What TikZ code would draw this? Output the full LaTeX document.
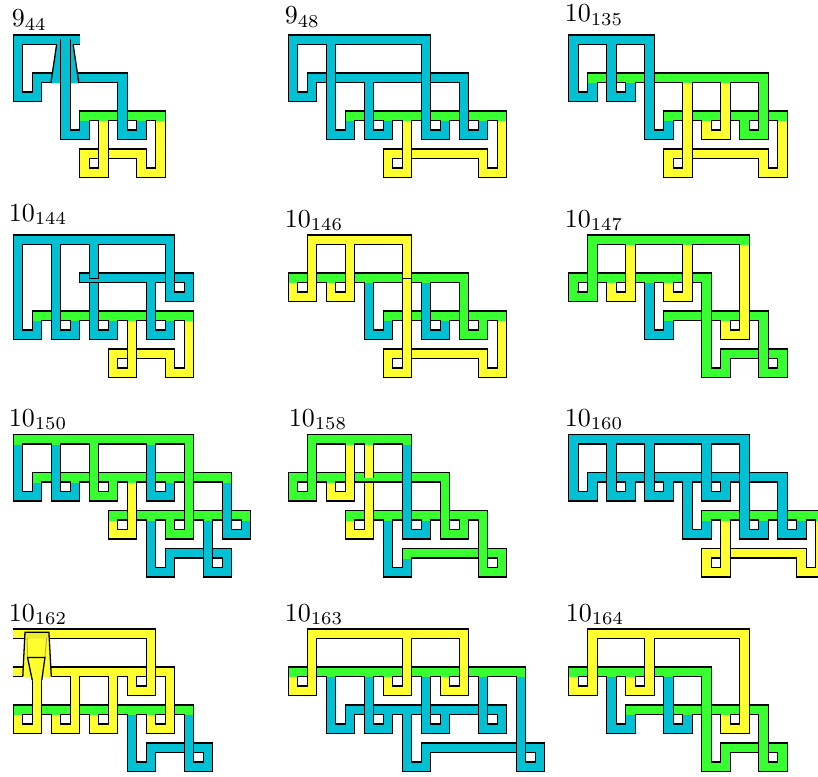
\documentclass[tikz,border=0pt]{standalone}
\definecolor{cy}{RGB}{0,192,212}
\definecolor{gr}{RGB}{56,255,48}
\definecolor{ye}{RGB}{255,255,48}
\definecolor{yd}{RGB}{236,236,40}
\tikzset{
  bk/.style={line width=10.8pt,draw=black},
  cl/.style={line width=8.2pt},
  sa/.style={shorten <=4pt},
  se/.style={shorten >=4pt},
  lbl/.style={anchor=base west,inner sep=0pt,scale=2.6}
}
\newcommand\rb[3][]{\draw[bk,#1] #3; \draw[cl,draw=#2] #3;}
\newcommand\J[3]{\draw[cl,draw=#1] (#2,#3-.4)--(#2,#3+.08);}
\newcommand\cp[1]{\draw[bk] #1;}
\newenvironment{pn}[2]{\begin{scope}[shift={(#1,#2)},x=9.5pt,y=-9.5pt]}{\end{scope}}
\begin{document}
\begin{tikzpicture}[x=1pt,y=-1pt]
\clip (0,0) rectangle (818,776);
\fill[white] (0,0) rectangle (818,776);
% labels
\node[lbl] (a1) at (11.3,26.3) {$9_{44}$};
\node[lbl] (a2) at (284.3,23.3) {$9_{48}$};
\node[lbl] (a3) at (564.3,22) {$10_{135}$};
\node[lbl] (a4) at (8.3,221) {$10_{144}$};
\node[lbl] (a5) at (284.3,227) {$10_{146}$};
\node[lbl] (a6) at (564.3,227) {$10_{147}$};
\node[lbl] (a7) at (8.3,426) {$10_{150}$};
\node[lbl] (a8) at (288.3,426) {$10_{158}$};
\node[lbl] (a9) at (564.3,426) {$10_{160}$};
\node[lbl] (a10) at (8.3,621) {$10_{162}$};
\node[lbl] (a11) at (284.3,621) {$10_{163}$};
\node[lbl] (a12) at (565.3,621) {$10_{164}$};
% 9_44
\begin{pn}{13.3}{35}
\rb{gr}{(7.5,9)--(7.5,8.5)--(15.5,8.5)--(15.5,9)}
\rb{ye}{(15.5,9)--(15.5,14.5)--(13.5,14.5)--(13.5,12.5)--(7.5,12.5)--(7.5,14.5)--(9.5,14.5)}
\rb[sa]{ye}{(8.5,14.5)--(9.5,14.5)--(9.5,9)}
\J{gr}{15.5}{9}\J{gr}{9.5}{9}
\cp{(6.5,.5)--(7.07,.5)}
\rb{cy}{(13.5,9)--(13.5,10.5)--(11.5,10.5)--(11.5,4.5)--(2.5,4.5)--(2.5,6.5)--(.5,6.5)--(.5,.5)--(7,.5)}
\J{gr}{13.5}{9}
\fill[cy] (4.56,.93)--(3.96,5.08)--(6.9,5.08)--(6.3,.93)--cycle;
\draw[line width=1.3pt] (4.56,1)--(3.96,5.05) (6.3,1)--(6.9,5.05);
\cp{(5.5,.39)--(5.5,.7)}
\rb{cy}{(5.5,.46)--(5.5,10.5)--(7.5,10.5)--(7.5,9)}
\J{gr}{7.5}{9}
\end{pn}
% 9_48
\begin{pn}{288.3}{35}
\rb{gr}{(6.5,9)--(6.5,8.5)--(22.5,8.5)--(22.5,9)}
\rb{ye}{(22.5,9)--(22.5,14.5)--(20.5,14.5)--(20.5,12.5)--(10.5,12.5)--(10.5,14.5)--(12.5,14.5)}
\rb[sa]{ye}{(11.5,14.5)--(12.5,14.5)--(12.5,9)}
\J{gr}{22.5}{9}\J{gr}{12.5}{9}
\rb{cy}{(20.5,9)--(20.5,10.5)--(18.5,10.5)--(18.5,4.5)--(2.5,4.5)--(2.5,6.5)--(.5,6.5)--(.5,3)}
\rb[sa]{cy}{(.5,4)--(.5,.5)--(14.5,.5)--(14.5,10.5)--(16.5,10.5)--(16.5,9)}
\rb{cy}{(8.5,5)--(8.5,10.5)--(10.5,10.5)--(10.5,9)}
\rb{cy}{(4.5,1)--(4.5,10.5)--(6.5,10.5)--(6.5,9)}
\J{cy}{8.5}{5}\J{cy}{4.5}{1}
\J{gr}{20.5}{9}\J{gr}{16.5}{9}\J{gr}{10.5}{9}\J{gr}{6.5}{9}
\end{pn}
% 10_135
\begin{pn}{568.7}{35}
\rb{gr}{(10.5,9)--(10.5,8.5)--(22.5,8.5)--(22.5,9)}
\rb{ye}{(22.5,9)--(22.5,14.5)--(20.5,14.5)--(20.5,12.5)--(10.5,12.5)--(10.5,14.5)--(12.5,14.5)}
\J{gr}{22.5}{9}
\rb{gr}{(18.5,9)--(18.5,10.5)--(20.5,10.5)--(20.5,4.5)--(2.5,4.5)--(2.5,5)}
\rb{cy}{(2.5,5)--(2.5,6.5)--(.5,6.5)--(.5,.5)--(8.5,.5)--(8.5,10.5)--(10.5,10.5)--(10.5,9)}
\rb[sa]{ye}{(11.5,14.5)--(12.5,14.5)--(12.5,5)}
\rb{cy}{(4.5,1)--(4.5,6.5)--(6.5,6.5)--(6.5,5)}
\rb{ye}{(16.5,5)--(16.5,10.5)--(14.5,10.5)--(14.5,9)}
\J{gr}{18.5}{9}\J{gr}{2.5}{5}\J{cy}{4.5}{1}\J{gr}{6.5}{5}\J{gr}{16.5}{5}\J{gr}{14.5}{9}\J{gr}{10.5}{9}\J{gr}{12.5}{5}
\end{pn}
% 10_144
\begin{pn}{13.3}{235}
\rb{gr}{(2.5,9)--(2.5,8.5)--(18.5,8.5)--(18.5,9)}
\rb{ye}{(18.5,9)--(18.5,14.5)--(16.5,14.5)--(16.5,12.5)--(10.5,12.5)--(10.5,14.5)--(12.5,14.5)}
\rb[sa]{ye}{(11.5,14.5)--(12.5,14.5)--(12.5,9)}
\J{gr}{18.5}{9}\J{gr}{12.5}{9}
\cp{(6.93,4.5)--(7.5,4.5)}
\rb{cy}{(8.5,5)--(8.5,10.5)--(10.5,10.5)--(10.5,9)}
\rb{cy}{(7,4.5)--(18.5,4.5)--(18.5,6.5)--(17.5,6.5)}
\rb{cy}{(14.5,5)--(14.5,10.5)--(16.5,10.5)--(16.5,9)}
\rb[se]{cy}{(2.5,9)--(2.5,10.5)--(.5,10.5)--(.5,.5)--(16.5,.5)--(16.5,6.5)--(18,6.5)}
\rb{cy}{(4.5,1)--(4.5,10.5)--(6.5,10.5)--(6.5,9)}
\cp{(8.5,4.3)--(8.5,4.63)}
\rb{cy}{(8.5,1)--(8.5,4.56)}
\J{cy}{14.5}{5}\J{gr}{16.5}{9}\J{gr}{10.5}{9}\J{gr}{2.5}{9}\J{gr}{6.5}{9}\J{cy}{4.5}{1}\J{cy}{8.5}{1}
\end{pn}
% 10_146
\begin{pn}{288.3}{235}
\rb{gr}{(10.5,9)--(10.5,8.5)--(22.5,8.5)--(22.5,9)}
\rb{ye}{(22.5,9)--(22.5,14.5)--(20.5,14.5)--(20.5,12.5)--(10.5,12.5)--(10.5,14.5)--(12.5,14.5)}
\J{gr}{22.5}{9}
\rb{gr}{(.5,5)--(.5,4.5)--(18.5,4.5)--(18.5,10.5)--(20.5,10.5)--(20.5,9)}
\rb{cy}{(8.5,5)--(8.5,10.5)--(10.5,10.5)--(10.5,9)}
\rb{cy}{(14.5,5)--(14.5,10.5)--(16.5,10.5)--(16.5,9)}
\rb{ye}{(4.5,5)--(4.5,6.5)--(6.5,6.5)--(6.5,1)}
\rb[sa]{ye}{(11.5,14.5)--(12.5,14.5)--(12.5,4.56)}
\cp{(12.5,4.3)--(12.5,4.63)}
\rb{ye}{(.5,5)--(.5,6.5)--(2.5,6.5)--(2.5,.5)--(12.5,.5)--(12.5,4.56)}
\J{gr}{20.5}{9}\J{gr}{.5}{5}\J{gr}{8.5}{5}\J{gr}{10.5}{9}\J{gr}{14.5}{5}\J{gr}{16.5}{9}\J{gr}{4.5}{5}\J{ye}{6.5}{1}
\end{pn}
% 10_147
\begin{pn}{568.7}{235}
\rb{gr}{(10.5,9)--(10.5,8.5)--(20.5,8.5)--(20.5,9)}
\rb{gr}{(21.5,14.5)--(22.5,14.5)--(22.5,12.5)--(16.5,12.5)--(16.5,14.5)--(14.5,14.5)--(14.5,4.5)--(.5,4.5)--(.5,6.5)--(1.5,6.5)}
\rb[sa]{gr}{(.5,6.5)--(2.5,6.5)--(2.5,.5)--(18.5,.5)--(18.5,1)}
\rb[se]{gr}{(20.5,9)--(20.5,14.5)--(22,14.5)}
\J{gr}{20.5}{9}
\rb{ye}{(18.5,1)--(18.5,10.5)--(16.5,10.5)--(16.5,9)}
\rb{ye}{(6.5,1)--(6.5,6.5)--(4.5,6.5)--(4.5,5)}
\rb{ye}{(12.5,1)--(12.5,6.5)--(10.5,6.5)--(10.5,5)}
\rb{cy}{(10.5,9)--(10.5,10.5)--(8.5,10.5)--(8.5,5)}
\J{gr}{18.5}{1}\J{gr}{16.5}{9}\J{gr}{6.5}{1}\J{gr}{4.5}{5}\J{gr}{12.5}{1}\J{gr}{10.5}{5}\J{gr}{10.5}{9}\J{gr}{8.5}{5}
\end{pn}
% 10_150
\begin{pn}{13.3}{434.5}
\rb{gr}{(10.5,9)--(10.5,8.5)--(24.5,8.5)--(24.5,9)}
\rb{cy}{(14.5,9)--(14.5,14.5)--(16.5,14.5)--(16.5,12.5)--(22.5,12.5)--(22.5,14.5)--(20.5,14.5)}
\rb[sa]{cy}{(21.5,14.5)--(20.5,14.5)--(20.5,9)}
\J{gr}{14.5}{9}\J{gr}{20.5}{9}
\rb{gr}{(2.5,5)--(2.5,4.5)--(22.5,4.5)--(22.5,5)}
\rb{ye}{(10.5,9)--(10.5,10.5)--(12.5,10.5)--(12.5,5)}
\rb{cy}{(22.5,5)--(22.5,10.5)--(24.5,10.5)--(24.5,9)}
\rb{gr}{(.5,1)--(.5,.5)--(18.5,.5)--(18.5,10.5)--(16.5,10.5)--(16.5,9)}
\rb{cy}{(.5,1)--(.5,6.5)--(2.5,6.5)--(2.5,5)}
\rb{cy}{(4.5,1)--(4.5,6.5)--(6.5,6.5)--(6.5,5)}
\rb{gr}{(8.5,1)--(8.5,6.5)--(10.5,6.5)--(10.5,5)}
\rb{cy}{(14.5,1)--(14.5,6.5)--(16.5,6.5)--(16.5,5)}
\J{gr}{10.5}{9}\J{gr}{12.5}{5}\J{gr}{22.5}{5}\J{gr}{24.5}{9}\J{gr}{16.5}{9}\J{gr}{.5}{1}\J{gr}{2.5}{5}\J{gr}{4.5}{1}\J{gr}{6.5}{5}\J{gr}{8.5}{1}\J{gr}{10.5}{5}\J{gr}{14.5}{1}\J{gr}{16.5}{5}
\end{pn}
% 10_158
\begin{pn}{288.3}{434.5}
\rb{gr}{(12.5,13)--(12.5,12.5)--(22.5,12.5)--(22.5,14.5)--(20.5,14.5)}
\rb[sa]{gr}{(21.5,14.5)--(20.5,14.5)--(20.5,8.5)--(6.5,8.5)--(6.5,9)}
\rb{cy}{(10.5,9)--(10.5,14.5)--(12.5,14.5)--(12.5,13)}
\J{gr}{10.5}{9}\J{gr}{12.5}{13}
\rb{ye}{(6.5,9)--(6.5,10.5)--(8.5,10.5)--(8.5,5)}
\J{gr}{6.5}{9}
\rb{gr}{(18.5,9)--(18.5,10.5)--(16.5,10.5)--(16.5,4.5)--(.5,4.5)--(.5,6.5)--(1.5,6.5)}
\J{gr}{18.5}{9}
\rb[sa]{gr}{(.5,6.5)--(2.5,6.5)--(2.5,.5)--(12.5,.5)--(12.5,1)}
\rb{cy}{(12.5,1)--(12.5,10.5)--(14.5,10.5)--(14.5,9)}
\rb{ye}{(6.5,1)--(6.5,6.5)--(4.5,6.5)--(4.5,5)}
\cp{(8.5,4.3)--(8.5,4.63)}
\rb{ye}{(8.5,1)--(8.5,4.56)}
\J{gr}{12.5}{1}\J{gr}{14.5}{9}\J{gr}{6.5}{1}\J{gr}{4.5}{5}\J{gr}{8.5}{1}
\end{pn}
% 10_160
\begin{pn}{568.7}{434.5}
\rb{gr}{(14.5,9)--(14.5,8.5)--(26.5,8.5)--(26.5,9)}
\rb{ye}{(26.5,9)--(26.5,14.5)--(24.5,14.5)--(24.5,12.5)--(14.5,12.5)--(14.5,14.5)--(16.5,14.5)}
\rb[sa]{ye}{(15.5,14.5)--(16.5,14.5)--(16.5,9)}
\J{gr}{26.5}{9}\J{gr}{16.5}{9}
\rb{cy}{(24.5,9)--(24.5,10.5)--(22.5,10.5)--(22.5,4.5)--(2.5,4.5)--(2.5,6.5)--(.5,6.5)--(.5,3.5)}
\rb[sa]{cy}{(.5,4.5)--(.5,.5)--(18.5,.5)--(18.5,10.5)--(20.5,10.5)--(20.5,9)}
\rb{cy}{(4.5,1)--(4.5,6.5)--(6.5,6.5)--(6.5,5)}
\rb{cy}{(8.5,1)--(8.5,6.5)--(10.5,6.5)--(10.5,5)}
\rb{cy}{(14.5,1)--(14.5,6.5)--(16.5,6.5)--(16.5,5)}
\rb{cy}{(12.5,5)--(12.5,10.5)--(14.5,10.5)--(14.5,9)}
\J{gr}{24.5}{9}\J{gr}{20.5}{9}\J{gr}{14.5}{9}
\J{cy}{4.5}{1}\J{cy}{6.5}{5}\J{cy}{8.5}{1}\J{cy}{10.5}{5}\J{cy}{14.5}{1}\J{cy}{16.5}{5}\J{cy}{12.5}{5}
\end{pn}
% 10_162
\begin{pn}{13.3}{629}
\rb{gr}{(.5,9)--(.5,8.5)--(18.5,8.5)--(18.5,9)}
\rb{cy}{(12.5,9)--(12.5,14.5)--(14.5,14.5)--(14.5,12.5)--(20.5,12.5)--(20.5,14.5)--(18.5,14.5)}
\rb[sa]{cy}{(19.5,14.5)--(18.5,14.5)--(18.5,9)}
\J{gr}{12.5}{9}\J{gr}{18.5}{9}
\cp{(-.07,4.5)--(.5,4.5)}
\rb{ye}{(0,4.5)--(16.5,4.5)--(16.5,10.5)--(14.5,10.5)--(14.5,9)}
\rb{ye}{(6.5,5)--(6.5,10.5)--(4.5,10.5)--(4.5,9)}
\rb{ye}{(10.5,5)--(10.5,10.5)--(8.5,10.5)--(8.5,9)}
\J{ye}{6.5}{5}\J{ye}{10.5}{5}
\J{gr}{14.5}{9}\J{gr}{4.5}{9}\J{gr}{8.5}{9}
\cp{(-.07,.5)--(.5,.5)}
\rb{ye}{(0,.5)--(14.5,.5)--(14.5,6.5)--(12.5,6.5)--(12.5,5)}
\J{ye}{12.5}{5}
\fill[ye] (1.23,.35)--(1,5.05)--(4,5.05)--(3.75,.35)--cycle;
\fill[yd] (1.23,.35)--(1.2,1)--(3.78,1)--(3.75,.35)--cycle;
\draw[line width=1.3pt] (1,5)--(1.23,.35)--(3.75,.35)--(4,5);
\draw[line width=1pt,densely dotted,black!60] (1.45,1)--(1.5,3) (3.5,1)--(3.33,3);
\rb{ye}{(.5,9)--(.5,10.5)--(2.5,10.5)--(2.5,5.3)}
\J{gr}{.5}{9}
\fill[ye] (2,5.4)--(1.5,3)--(3.33,3)--(3,5.4)--cycle;
\draw[line width=1.3pt] (2,5.4)--(1.5,3)--(3.33,3)--(3,5.4);
\end{pn}
% 10_163
\begin{pn}{288.3}{629}
\rb{cy}{(6.5,9)--(6.5,8.5)--(22.5,8.5)--(22.5,10.5)--(21.5,10.5)}
\rb{cy}{(12.5,9)--(12.5,14.5)--(14.5,14.5)--(14.5,12.5)--(26.5,12.5)--(26.5,14.5)--(24.5,14.5)}
\J{cy}{12.5}{9}
\rb{gr}{(.5,5)--(.5,4.5)--(24.5,4.5)--(24.5,5)}
\rb[sa]{cy}{(25.5,14.5)--(24.5,14.5)--(24.5,5)}
\rb[sa]{cy}{(22,10.5)--(20.5,10.5)--(20.5,5)}
\rb{cy}{(4.5,5)--(4.5,10.5)--(6.5,10.5)--(6.5,9)}
\rb{cy}{(8.5,5)--(8.5,10.5)--(10.5,10.5)--(10.5,9)}
\rb{cy}{(14.5,5)--(14.5,10.5)--(16.5,10.5)--(16.5,9)}
\J{gr}{24.5}{5}\J{gr}{20.5}{5}\J{gr}{4.5}{5}\J{cy}{6.5}{9}\J{gr}{8.5}{5}\J{cy}{10.5}{9}\J{gr}{14.5}{5}\J{cy}{16.5}{9}
\rb{ye}{(.5,5)--(.5,6.5)--(2.5,6.5)--(2.5,.5)--(18.5,.5)--(18.5,6.5)--(16.5,6.5)--(16.5,5)}
\rb{ye}{(12.5,1)--(12.5,6.5)--(10.5,6.5)--(10.5,5)}
\J{gr}{.5}{5}\J{gr}{16.5}{5}\J{ye}{12.5}{1}\J{gr}{10.5}{5}
\draw[line width=1.9pt] (14,1)--(15,1) (14,4)--(15,4);
\end{pn}
% 10_164
\begin{pn}{568.7}{629}
\rb{gr}{(6.5,9)--(6.5,8.5)--(20.5,8.5)--(20.5,9)}
\rb{gr}{(21.5,14.5)--(22.5,14.5)--(22.5,12.5)--(16.5,12.5)--(16.5,14.5)--(14.5,14.5)--(14.5,4.5)--(.5,4.5)--(.5,5)}
\rb[se]{gr}{(20.5,9)--(20.5,14.5)--(22,14.5)}
\J{gr}{20.5}{9}
\rb{ye}{(.5,5)--(.5,6.5)--(2.5,6.5)--(2.5,.5)--(18.5,.5)--(18.5,10.5)--(16.5,10.5)--(16.5,9)}
\rb{ye}{(8.5,1)--(8.5,6.5)--(6.5,6.5)--(6.5,5)}
\rb{cy}{(6.5,9)--(6.5,10.5)--(4.5,10.5)--(4.5,5)}
\rb{cy}{(10.5,5)--(10.5,10.5)--(12.5,10.5)--(12.5,9)}
\J{gr}{.5}{5}\J{gr}{16.5}{9}\J{ye}{8.5}{1}\J{gr}{6.5}{5}\J{gr}{6.5}{9}\J{gr}{4.5}{5}\J{gr}{10.5}{5}\J{gr}{12.5}{9}
\end{pn}
\end{tikzpicture}
\end{document}
